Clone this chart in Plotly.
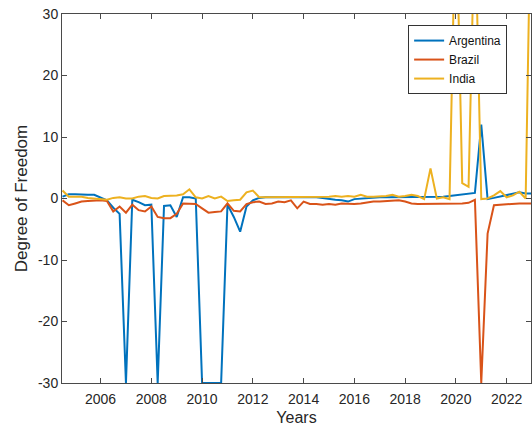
import plotly.graph_objects as go

# Quarterly observations, 2004 Q3 through 2022 Q4 (plus the 2023.0 endpoint)
years = [2004.5 + 0.25 * k for k in range(75)]

argentina = [
    0.3, 0.7, 0.7, 0.6, 0.6, 0.6, 0.2, -0.3, -1.5, -2.5,
    -30, -0.2, -0.6, -1.1, -1.0, -30, -1.2, -1.1, -3.0, 0.2,
    0.2, 0.0, -30, -30, -30, -30, -1.0, -3.0, -5.4, -1.3,
    -0.3, 0.1, 0.2, 0.2, 0.3, 0.3, 0.2, 0.2, 0.3, 0.3,
    0.2, 0.1, -0.1, -0.2, -0.3, -0.5, -0.1, 0.0, 0.1, 0.1,
    0.2, 0.2, 0.2, 0.3, 0.3, 0.3, 0.3, 0.3, 0.3, 0.3,
    0.3, 0.4, 0.5, 0.7, 0.8, 0.9, 12.0, -0.1, 0.1, 0.3,
    0.5, 0.7, 1.0, 0.8, 0.8,
]

brazil = [
    -0.3, -1.1, -0.8, -0.5, -0.4, -0.3, -0.3, -0.4, -2.1, -1.3,
    -2.3, -1.0, -1.9, -2.1, -1.3, -3.0, -3.2, -3.2, -2.5, -0.8,
    -0.8, -0.9, -1.6, -2.3, -2.2, -2.1, -0.8, -2.0, -2.1, -0.9,
    -0.6, -0.5, -0.9, -0.8, -0.5, -0.6, -0.3, -1.6, -0.5, -0.9,
    -0.9, -1.0, -0.9, -1.0, -0.8, -0.9, -0.9, -0.8, -0.6, -0.5,
    -0.5, -0.4, -0.4, -0.3, -0.5, -0.8, -0.9, -0.9, -0.9, -0.9,
    -0.9, -0.8, -0.8, -0.8, -0.7, -0.2, -30, -5.7, -1.1, -1.0,
    -1.0, -0.8, -0.8, -0.8, -0.8,
]

india = [
    1.3, 0.3, 0.3, 0.3, 0.1, 0.0, -0.1, -0.2, 0.1, 0.2,
    0.0, 0.0, 0.3, 0.4, 0.1, 0.0, 0.4, 0.4, 0.5, 0.7,
    1.5, 0.2, 0.0, 0.4, 0.0, 0.3, -0.4, -0.3, -0.2, 1.0,
    1.3, 0.2, 0.2, 0.3, 0.3, 0.2, 0.3, 0.3, 0.2, 0.3,
    0.3, 0.2, 0.3, 0.4, 0.3, 0.4, 0.3, 0.6, 0.3, 0.3,
    0.3, 0.4, 0.6, 0.3, 0.4, 0.6, 0.4, -0.1, 4.9, 0.0,
    0.2, -0.1, 50.0, 2.5, 1.9, 47.0, -0.1, 0.0, 0.5, 1.2,
    0.2, 0.5, 1.1, 0.0, 60.0,
]

series = [
    ("Argentina", argentina, "#0072BD"),
    ("Brazil", brazil, "#D95319"),
    ("India", india, "#EDB120"),
]

x_ticks = [2006, 2008, 2010, 2012, 2014, 2016, 2018, 2020, 2022]
y_ticks = [-30, -20, -10, 0, 10, 20, 30]
y_tick_labels = ["-30", "-20", "-10", "0", "10", "20", "30"]

FONT = "Liberation Sans, Arial, Helvetica, sans-serif"
INK = "#262626"

fig = go.Figure()
for name, values, color in series:
    fig.add_trace(go.Scatter(
        x=years, y=values, name=name, mode="lines",
        line=dict(color=color, width=2),
    ))

axis_common = dict(
    showline=True, linecolor="#4a4a4a", linewidth=1, mirror="ticks",
    ticks="inside", ticklen=5, tickcolor="#4a4a4a", tickwidth=1,
    showgrid=False, zeroline=False,
    tickfont=dict(family=FONT, size=14, color=INK),
)

fig.update_layout(
    width=532, height=429,
    margin=dict(l=62, r=1, t=14, b=46),
    paper_bgcolor="white", plot_bgcolor="white",
    font=dict(family=FONT, color=INK),
    showlegend=True,
    legend=dict(
        x=0.738, y=0.97, xanchor="left", yanchor="top",
        bgcolor="white", bordercolor="#333333", borderwidth=1,
        font=dict(family=FONT, size=12, color="#111111"),
        tracegroupgap=0, itemwidth=30,
        entrywidth=62, entrywidthmode="pixels",
    ),
    xaxis=dict(
        range=[2004.48, 2022.96], tickvals=x_ticks,
        ticklabelstandoff=3,
        title=dict(text="Years", font=dict(family=FONT, size=16, color=INK), standoff=6),
        **axis_common,
    ),
    yaxis=dict(
        range=[-30, 30], tickvals=y_ticks, ticktext=y_tick_labels,
        title=dict(text="Degree of Freedom", font=dict(family=FONT, size=17, color=INK), standoff=6),
        **axis_common,
    ),
)

fig.write_html("out.html")
